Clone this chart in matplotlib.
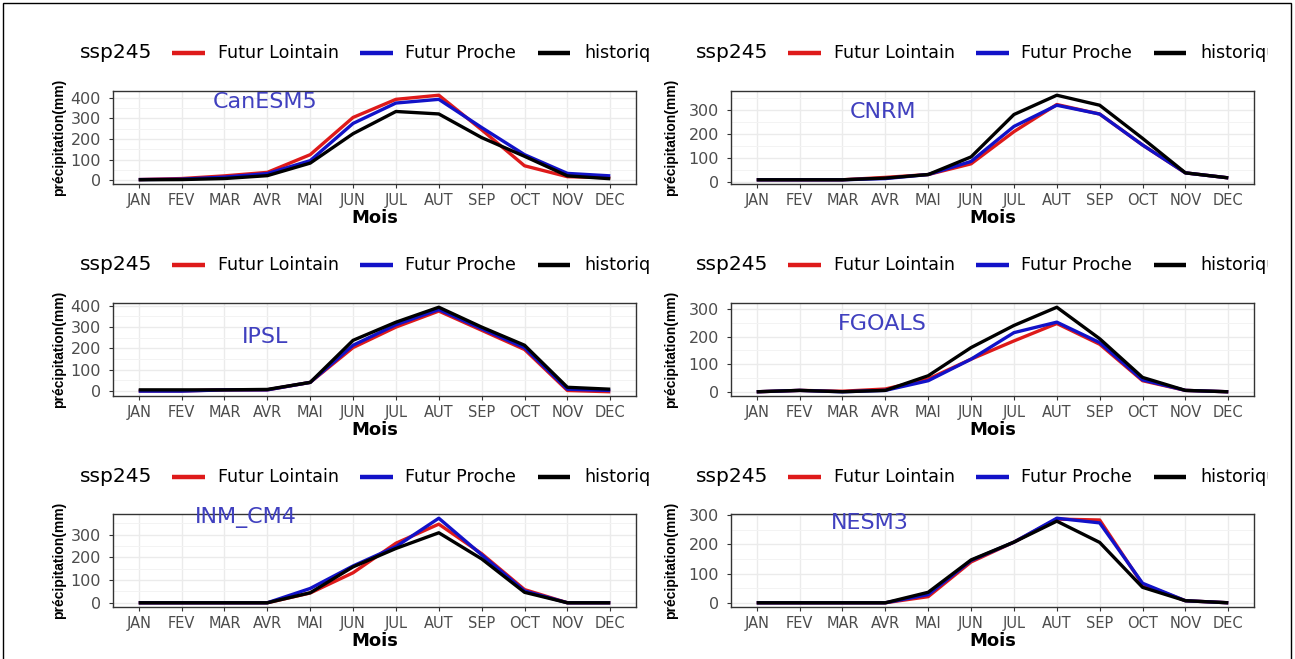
import matplotlib
matplotlib.use("Agg")
import matplotlib.pyplot as plt
from matplotlib.ticker import MultipleLocator
from matplotlib.lines import Line2D
from matplotlib.patches import Rectangle
from matplotlib.transforms import Bbox, TransformedBbox

plt.rcParams['font.family'] = ['DejaVu Sans']

# ---------------- data ----------------
months = ['JAN', 'FEV', 'MAR', 'AVR', 'MAI', 'JUN', 'JUL', 'AUT', 'SEP', 'OCT', 'NOV', 'DEC']
series_names = ['Futur Lointain', 'Futur Proche', 'historique']
legend_title = 'ssp245'
models = ['CanESM5', 'CNRM', 'IPSL', 'FGOALS', 'INM_CM4', 'NESM3']

canesm5_lointain = [3, 8, 21, 38, 124, 305, 393, 413, 245, 70, 17, 12]
canesm5_proche = [3, 5, 15, 32, 95, 276, 375, 393, 256, 124, 33, 21]
canesm5_hist = [2, 3, 8, 22, 83, 226, 334, 322, 207, 116, 21, 7]

cnrm_lointain = [8, 8, 8, 18, 30, 75, 210, 324, 284, 154, 37, 16]
cnrm_proche = [8, 8, 8, 13, 30, 85, 232, 321, 284, 154, 37, 16]
cnrm_hist = [8, 8, 8, 15, 30, 104, 282, 363, 321, 182, 37, 16]

ipsl_lointain = [0, 0, 5, 5, 40, 203, 299, 374, 284, 194, 2, -4]
ipsl_proche = [-1, -1, 5, 5, 40, 214, 310, 381, 291, 202, 8, 2]
ipsl_hist = [5, 5, 5, 7, 40, 237, 322, 392, 299, 214, 17, 8]

fgoals_lointain = [0, 5, 2, 10, 46, 118, 184, 247, 172, 40, 5, 0]
fgoals_proche = [0, 5, 0, 5, 40, 118, 214, 252, 178, 43, 5, 0]
fgoals_hist = [0, 5, 0, 5, 58, 160, 240, 306, 192, 52, 5, 0]

inm_lointain = [0, 0, 0, 0, 43, 132, 262, 346, 216, 58, 0, 0]
inm_proche = [0, 0, 0, 0, 63, 162, 247, 372, 211, 52, 0, 0]
inm_hist = [0, 0, 0, 0, 44, 158, 239, 308, 193, 46, 0, 0]

nesm3_lointain = [0, 0, 0, 0, 21, 140, 208, 287, 284, 63, 7, 0]
nesm3_proche = [0, 0, 0, 0, 28, 145, 208, 290, 274, 67, 7, 0]
nesm3_hist = [0, 0, 0, 0, 36, 147, 208, 280, 207, 53, 7, 0]

model_series = [
    (canesm5_lointain, canesm5_proche, canesm5_hist),
    (cnrm_lointain, cnrm_proche, cnrm_hist),
    (ipsl_lointain, ipsl_proche, ipsl_hist),
    (fgoals_lointain, fgoals_proche, fgoals_hist),
    (inm_lointain, inm_proche, inm_hist),
    (nesm3_lointain, nesm3_proche, nesm3_hist),
]

# ---------------- style / layout ----------------
colors = ['#DE1A1A', '#1212C8', '#000000']
label_pos = [(2.95, 380), (2.94, 291), (2.95, 251), (2.94, 246), (2.5, 373), (2.64, 272)]
ylabel_family = ['Liberation Sans', 'DejaVu Sans']

W, H = 1295, 659
fig = plt.figure(figsize=(W / 100, H / 100), dpi=100)


def fx(px):
    return px / W


def fy(py):
    return 1 - py / H


x = list(range(len(months)))

for i, (name, (lo, pr, hi)) in enumerate(zip(models, model_series)):
    row, col = divmod(i, 2)
    dx_ax = 0 if col == 0 else 618
    dx_lg = 0 if col == 0 else 616
    dy_ax = [0, 212, 423][row]
    dy_lg = [0, 212, 424][row]

    left, right = 113 + dx_ax, 636 + dx_ax
    top, bottom = 91 + dy_ax, 184 + dy_ax
    ax = fig.add_axes([fx(left), fy(bottom), (right - left) / W, (bottom - top) / H])

    for vals, c in zip((lo, pr, hi), colors):
        ax.plot(x, vals, color=c, lw=2.4, solid_joinstyle='round', solid_capstyle='butt')

    ax.set_xlim(-0.6, len(months) - 1 + 0.6)
    ax.margins(y=0.05)
    ax.set_xticks(x)
    ax.set_xticklabels(months, fontsize=10.5)
    ax.yaxis.set_major_locator(MultipleLocator(100))
    ax.yaxis.set_minor_locator(MultipleLocator(50))
    ax.tick_params(axis='both', which='major', length=3.2, width=0.8, color='#333333',
                   labelcolor='#4D4D4D')
    ax.tick_params(axis='x', pad=3.0)
    ax.tick_params(axis='y', labelsize=11.5, pad=5.5)
    ax.tick_params(axis='y', which='minor', length=0)
    ax.grid(which='major', color='#EBEBEB', lw=1.0)
    ax.grid(which='minor', axis='y', color='#F3F3F3', lw=0.7)
    ax.set_axisbelow(True)
    for sp in ax.spines.values():
        sp.set_color('#333333')
        sp.set_linewidth(1.0)

    ax.set_xlabel('Mois', fontsize=13, fontweight='bold', color='black')
    ax.xaxis.label.set_va('center')
    ax.xaxis.set_label_coords(0.5, -(218 + dy_ax - bottom) / (bottom - top))
    ax.set_ylabel('précipitation(mm)', fontsize=10, fontweight='bold', color='black',
                  family=ylabel_family)
    ax.yaxis.label.set_va('center')
    ylab_x = 59 if col == 0 else 671
    ax.yaxis.set_label_coords((ylab_x - left) / (right - left), 0.5)

    ax.text(label_pos[i][0], label_pos[i][1], name, color='#4040BF', fontsize=16,
            ha='center', va='center')

    # legend (ggplot-style horizontal legend with title on the left)
    ly = fy(53 + dy_lg)
    clip = TransformedBbox(Bbox([[fx(0 + dx_lg), 0], [fx(650 + dx_lg + (2 if col else 0)), 1]]),
                           fig.transFigure)
    fig.text(fx(80 + dx_lg), ly, legend_title, fontsize=14.5, ha='left', va='center',
             color='black')
    seg = [(172, 205, 218), (360, 393, 405), (538, 570, 584)]
    for (s0, s1, tx), c, lab in zip(seg, colors, series_names):
        fig.add_artist(Line2D([fx(s0 + dx_lg), fx(s1 + dx_lg)], [ly, ly], color=c, lw=3.2,
                              transform=fig.transFigure, solid_capstyle='butt'))
        t = fig.text(fx(tx + dx_lg), ly, lab, fontsize=12.6, ha='left', va='center',
                     color='black')
        t.set_clip_box(clip)
        t.set_clip_on(True)

# outer frame of the picture
fig.add_artist(Rectangle((fx(3), -0.01), fx(1291) - fx(3), fy(3) + 0.01, fill=False,
                         edgecolor='black', lw=1.0, transform=fig.transFigure, clip_on=False))

fig.savefig('out.png', dpi=100)
